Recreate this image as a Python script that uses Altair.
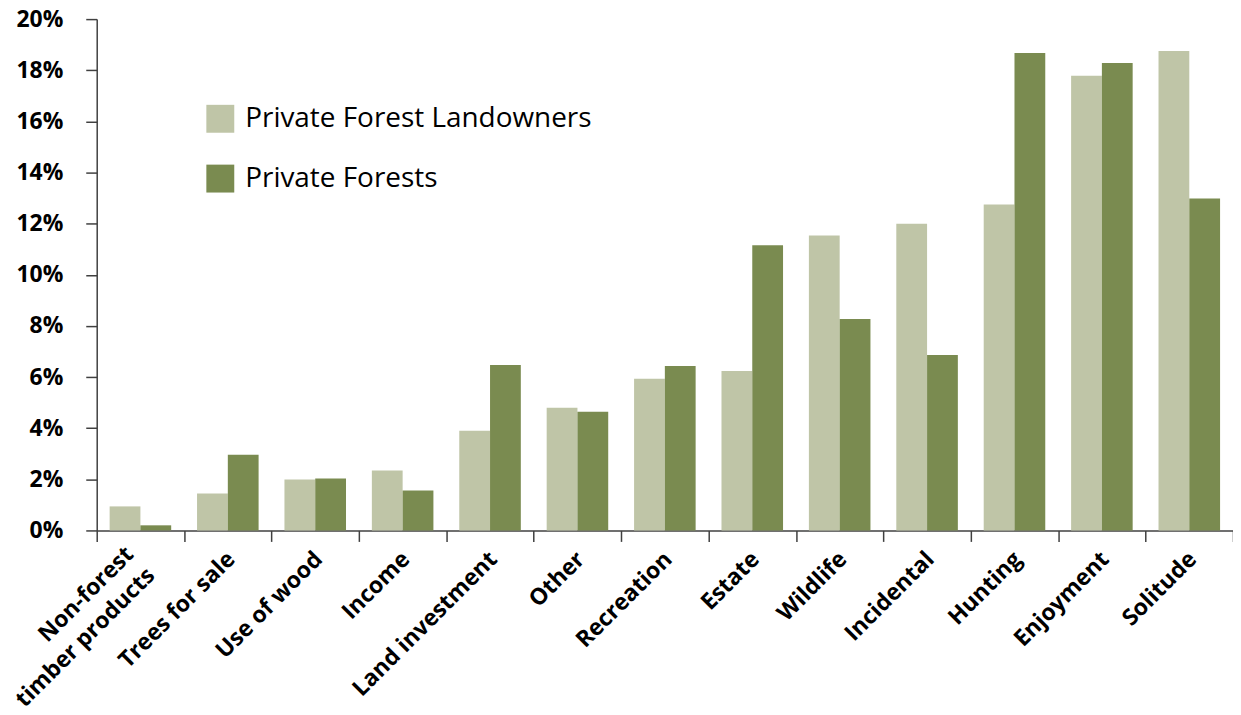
import altair as alt
import pandas as pd

categories = ["Non-forest|timber products", "Trees for sale", "Use of wood", "Income",
              "Land investment", "Other", "Recreation", "Estate", "Wildlife",
              "Incidental", "Hunting", "Enjoyment", "Solitude"]
series_names = ["Private Forest Landowners", "Private Forests"]
landowners = [0.94, 1.44, 1.99, 2.34, 3.90, 4.80, 5.93, 6.24, 11.54, 12.00, 12.75, 17.78, 18.75]
forests = [0.20, 2.96, 2.03, 1.56, 6.47, 4.64, 6.43, 11.15, 8.27, 6.86, 18.67, 18.28, 12.98]
y_ticks = [0, 2, 4, 6, 8, 10, 12, 14, 16, 18, 20]
colors = ["#BFC5A7", "#7A8B50"]

rows = []
for c, a, b in zip(categories, landowners, forests):
    rows.append({"category": c, "series": series_names[0], "value": a / 100})
    rows.append({"category": c, "series": series_names[1], "value": b / 100})
df = pd.DataFrame(rows)

font = "Open Sans"
axis_color = "#404040"
multi = "datum.value && indexof(datum.value, '|') >= 0"

chart = alt.Chart(df).mark_bar().encode(
    x=alt.X("category:N", sort=categories, title=None,
            scale=alt.Scale(paddingInner=0, paddingOuter=0),
            axis=alt.Axis(labelAngle=-45, labelAlign="right", labelBaseline="middle",
                          labelExpr="datum.value ? split(datum.value, '|') : ''",
                          tickBand="extent", tickSize=11,
                          labelPadding={"condition": {"test": multi, "value": 9}, "value": 14},
                          labelOffset={"condition": {"test": multi, "value": -11}, "value": 3},
                          labelFontSize=23, labelFontWeight="bold", labelFont=font,
                          labelColor="black", labelLineHeight=30, labelLimit=500,
                          domainColor=axis_color, tickColor=axis_color,
                          domainWidth=1.5, tickWidth=1.5)),
    xOffset=alt.XOffset("series:N", sort=series_names,
                        scale=alt.Scale(domain=series_names, paddingInner=0, paddingOuter=0.42)),
    y=alt.Y("value:Q", title=None,
            scale=alt.Scale(domain=[0, 0.2], nice=False),
            axis=alt.Axis(values=[v / 100 for v in y_ticks], format=".0%",
                          grid=False, tickSize=11, labelPadding=23,
                          labelFontSize=23, labelFontWeight="bold", labelFont=font,
                          labelColor="black",
                          domainColor=axis_color, tickColor=axis_color,
                          domainWidth=1.5, tickWidth=1.5)),
    color=alt.Color("series:N", sort=series_names,
                    scale=alt.Scale(domain=series_names, range=colors),
                    legend=alt.Legend(title=None, orient="none", legendX=110, legendY=86,
                                      symbolType="square", symbolSize=784,
                                      symbolStrokeWidth=0, labelFontSize=28,
                                      labelFont=font, labelColor="black",
                                      labelOffset=11, rowPadding=32, labelLimit=600)),
).properties(
    width=1140, height=513,
    autosize=alt.AutoSizeParams(type="none"),
    padding={"left": 89, "top": 10, "right": 0, "bottom": 176},
).configure_view(stroke=None)

chart.save("out.html", embed_options={"renderer": "svg", "actions": False})
